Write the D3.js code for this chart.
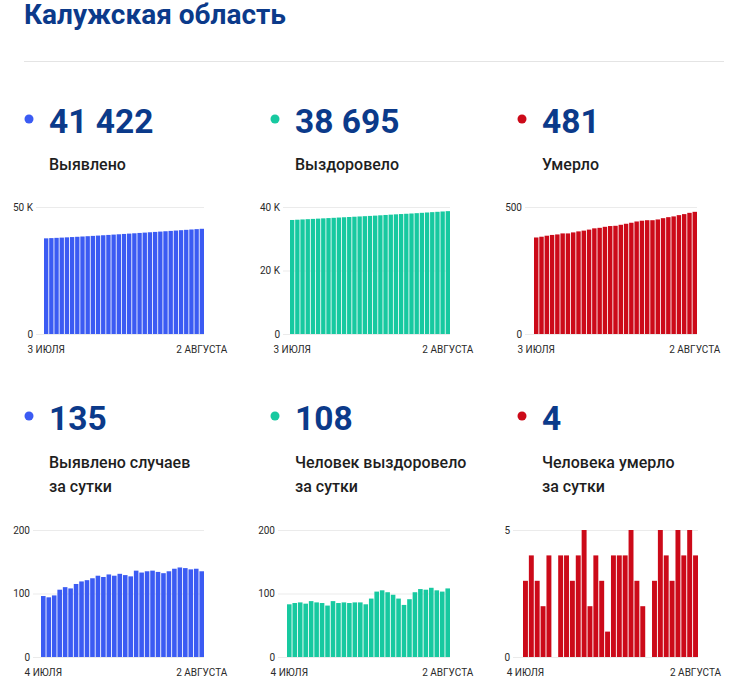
<!DOCTYPE html>
<html>
<head>
<meta charset="utf-8">
<script src="https://cdn.jsdelivr.net/npm/d3@7"></script>
<style>
  body { margin: 0; background: #fff; font-family: Roboto, "Noto Sans", sans-serif; }
  .tick text { font-family: Roboto, sans-serif; font-size: 10px; fill: #2a2a2a; }
</style>
</head>
<body>
<svg id="chart" width="748" height="695"></svg>
<script>
// days on the cumulative charts; daily charts start one day later
const days = ["3 июля", "4 июля", "5 июля", "6 июля", "7 июля", "8 июля", "9 июля", "10 июля",
  "11 июля", "12 июля", "13 июля", "14 июля", "15 июля", "16 июля", "17 июля", "18 июля",
  "19 июля", "20 июля", "21 июля", "22 июля", "23 июля", "24 июля", "25 июля", "26 июля",
  "27 июля", "28 июля", "29 июля", "30 июля", "31 июля", "1 августа", "2 августа"];
const daysDaily = days.slice(1);

const casesTotal = [37660, 37756, 37850, 37947, 38053, 38163, 38271, 38386, 38505, 38626, 38750,
  38878, 39004, 39134, 39262, 39393, 39522, 39649, 39785, 39918, 40053, 40189, 40323, 40455,
  40590, 40729, 40870, 41010, 41148, 41287, 41422];
const recoveredTotal = [35913, 35996, 36081, 36167, 36251, 36339, 36425, 36510, 36591, 36679,
  36764, 36850, 36935, 37021, 37107, 37190, 37282, 37385, 37490, 37592, 37690, 37782, 37864,
  37955, 38057, 38164, 38270, 38379, 38484, 38587, 38695];
const deathsTotal = [380, 383, 387, 390, 392, 396, 396, 400, 404, 407, 411, 416, 418, 422, 425,
  426, 430, 434, 438, 443, 446, 448, 448, 451, 456, 460, 463, 468, 472, 477, 481];

const casesDaily = [96, 94, 97, 106, 110, 108, 115, 119, 121, 124, 128, 126, 130, 128, 131, 129,
  127, 136, 133, 135, 136, 134, 132, 135, 139, 141, 140, 138, 139, 135];
const recoveredDaily = [83, 85, 86, 84, 88, 86, 85, 81, 88, 85, 86, 85, 86, 86, 83, 92, 103, 105,
  102, 98, 92, 82, 91, 102, 107, 106, 109, 105, 103, 108];
const deathsDaily = [3, 4, 3, 2, 4, 0, 4, 4, 3, 4, 5, 2, 4, 3, 1, 4, 4, 4, 5, 3, 2, 0, 3, 5, 4,
  3, 5, 4, 5, 4];

const ticksCases = [0, 50000];
const ticksRecovered = [0, 20000, 40000];
const ticksDeaths = [0, 500];
const ticksDaily = [0, 100, 200];
const ticksDeathsDaily = [0, 5];

const headline = ["41 422", "38 695", "481", "135", "108", "4"];
const captions = [["Выявлено"], ["Выздоровело"], ["Умерло"],
  ["Выявлено случаев", "за сутки"], ["Человек выздоровело", "за сутки"], ["Человека умерло", "за сутки"]];

const blue = "#3b5bf3", teal = "#17c9a0", red = "#cc0a19", navy = "#0b3a8a";

const svg = d3.select("#chart");

svg.append("text").attr("x", 24).attr("y", 24)
  .attr("font-size", 28).attr("font-weight", 700).attr("fill", navy)
  .text("Калужская область");

svg.append("line").attr("x1", 24).attr("x2", 724).attr("y1", 61.5).attr("y2", 61.5)
  .attr("stroke", "#e4e4e4");

const colX = [24, 270, 517];
const colors = [blue, teal, red];
const rowNum = [133, 430];
const rowLabel = [170, 468];

headline.forEach((h, i) => {
  const c = i % 3, r = Math.floor(i / 3);
  svg.append("circle").attr("cx", colX[c] + 5).attr("cy", rowNum[r] - 14).attr("r", 4.5)
    .attr("fill", colors[c]);
  svg.append("text").attr("x", colX[c] + 25).attr("y", rowNum[r])
    .attr("font-size", 33.5).attr("font-weight", 700).attr("fill", navy).text(h);
  captions[i].forEach((line, k) => {
    svg.append("text").attr("x", colX[c] + 25).attr("y", rowLabel[r] + k * 24)
      .attr("font-size", 16).attr("font-weight", 500).attr("fill", "#1e1e1e").text(line);
  });
});

function fmt(v) {
  return v >= 1000 ? (v / 1000) + " K" : String(v);
}

function barChart(o) {
  const x = d3.scaleBand().domain(o.cats).range([o.barLeft, o.right]).paddingInner(0.16);
  const y = d3.scaleLinear().domain([0, d3.max(o.ticks)]).range([o.bottom, o.top]);
  const g = svg.append("g");

  const ya = g.append("g").attr("transform", `translate(${o.gridLeft},0)`)
    .call(d3.axisLeft(y).tickValues(o.ticks).tickFormat(fmt)
      .tickSize(-(o.right - o.gridLeft)).tickPadding(3));
  ya.select(".domain").remove();
  ya.selectAll(".tick line").attr("stroke", "#ebebeb");

  g.append("g").selectAll("rect").data(o.values).join("rect")
    .attr("x", (d, i) => x(o.cats[i]))
    .attr("width", x.bandwidth())
    .attr("y", d => y(d))
    .attr("height", d => o.bottom - y(d))
    .attr("fill", o.color);

  const xa = g.append("g").attr("transform", `translate(0,${o.bottom})`)
    .call(d3.axisBottom(x).tickValues([o.cats[0], o.cats[o.cats.length - 1]])
      .tickFormat(d => d.toUpperCase()).tickSize(0).tickPadding(11.5));
  xa.select(".domain").remove();
}

barChart({ cats: days, values: casesTotal, ticks: ticksCases, color: blue,
  gridLeft: 36, barLeft: 44, right: 204, top: 207, bottom: 334 });
barChart({ cats: days, values: recoveredTotal, ticks: ticksRecovered, color: teal,
  gridLeft: 283, barLeft: 290, right: 450, top: 207, bottom: 334 });
barChart({ cats: days, values: deathsTotal, ticks: ticksDeaths, color: red,
  gridLeft: 525, barLeft: 534, right: 697, top: 207, bottom: 334 });
barChart({ cats: daysDaily, values: casesDaily, ticks: ticksDaily, color: blue,
  gridLeft: 33, barLeft: 41, right: 204, top: 530, bottom: 657 });
barChart({ cats: daysDaily, values: recoveredDaily, ticks: ticksDaily, color: teal,
  gridLeft: 278, barLeft: 287, right: 450, top: 530, bottom: 657 });
barChart({ cats: daysDaily, values: deathsDaily, ticks: ticksDeathsDaily, color: red,
  gridLeft: 513, barLeft: 523, right: 698, top: 530, bottom: 657 });
</script>
</body>
</html>
